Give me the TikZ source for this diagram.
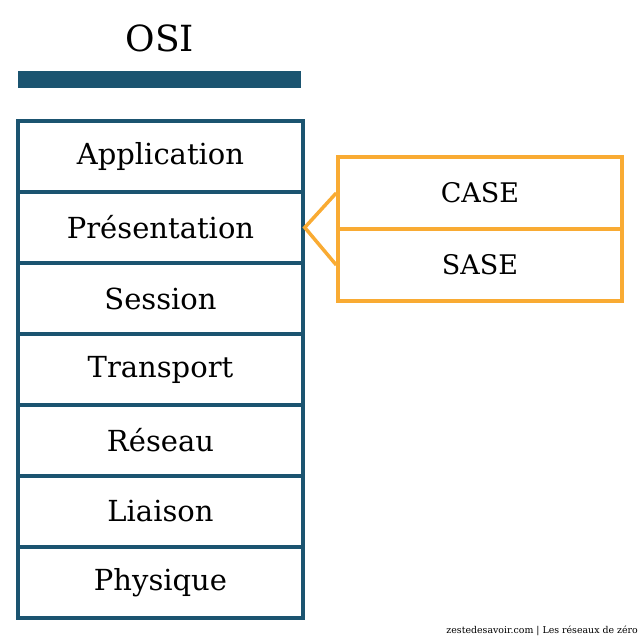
\documentclass[tikz,border=0pt]{standalone}
\usepackage{fontspec}
\setmainfont{DejaVu Serif}
\usepackage{tikz}
\definecolor{osiblue}{HTML}{1B5470}
\definecolor{osiorange}{HTML}{F9AB33}
\tikzset{
  layer/.style={draw=osiblue,line width=3.5pt,minimum width=285pt,minimum height=71pt,
    inner sep=0pt,font=\fontsize{29}{32}\selectfont},
  sublayer/.style={draw=osiorange,line width=3.5pt,minimum width=284pt,minimum height=72pt,
    inner sep=0pt,font=\fontsize{27}{30}\selectfont}
}

\begin{document}
\begin{tikzpicture}[x=1pt,y=-1pt]
\useasboundingbox (0,0) rectangle (641,638);
\node[font=\fontsize{36}{40}\selectfont] (titre) at (160,38) {OSI};
\fill[osiblue] (18,71) rectangle (301,88);
\foreach \nom [count=\i] in {Application,Présentation,Session,Transport,Réseau,Liaison,Physique}
  \node[layer] (l\i) at (160.5,{121+71*(\i-0.5)}) {\nom};
\node[sublayer] (case) at (480,193) {CASE};
\node[sublayer] (sase) at (480,265) {SASE};
\draw[osiorange,line width=3.5pt,line join=miter] (case.west) -- (l2.east) -- (sase.west);
\node[anchor=south east,inner sep=0pt,font=\fontsize{9.4}{11}\selectfont] (credit) at (638,636)
  {zestedesavoir.com | Les réseaux de zéro};
\end{tikzpicture}
\end{document}
